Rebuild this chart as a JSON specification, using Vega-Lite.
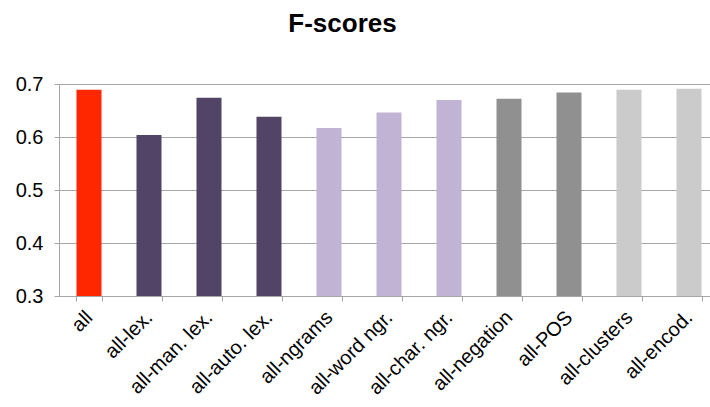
{
  "$schema": "https://vega.github.io/schema/vega-lite/v6.json",
  "autosize": {"type": "none"},
  "padding": {"left": 59, "top": 84, "right": 0, "bottom": 111},
  "width": 651,
  "height": 212,
  "background": "white",
  "title": {
    "text": "F-scores",
    "font": "Liberation Sans",
    "fontSize": 26,
    "fontWeight": "bold",
    "color": "#000000",
    "frame": "group",
    "anchor": "middle",
    "dx": -42,
    "offset": 37
  },
  "data": {
    "values": [
      {"config": "all", "fscore": 0.689, "group": "all"},
      {"config": "all-lex.", "fscore": 0.604, "group": "lex"},
      {"config": "all-man. lex.", "fscore": 0.674, "group": "lex"},
      {"config": "all-auto. lex.", "fscore": 0.638, "group": "lex"},
      {"config": "all-ngrams", "fscore": 0.617, "group": "ngrams"},
      {"config": "all-word ngr.", "fscore": 0.646, "group": "ngrams"},
      {"config": "all-char. ngr.", "fscore": 0.670, "group": "ngrams"},
      {"config": "all-negation", "fscore": 0.672, "group": "other"},
      {"config": "all-POS", "fscore": 0.684, "group": "other"},
      {"config": "all-clusters", "fscore": 0.689, "group": "encod"},
      {"config": "all-encod.", "fscore": 0.691, "group": "encod"}
    ]
  },
  "mark": {"type": "bar", "clip": true},
  "encoding": {
    "x": {
      "field": "config",
      "type": "nominal",
      "sort": null,
      "scale": {"range": [0, 660], "paddingInner": 0.583, "paddingOuter": 0.2915},
      "axis": {
        "title": null,
        "labelAngle": -45,
        "labelAlign": "right",
        "labelBaseline": "middle",
        "labelFont": "Liberation Sans",
        "labelFontSize": 20,
        "labelColor": "#000000",
        "labelPadding": 13,
        "labelOverlap": false,
        "labelBound": false,
        "labelFlush": false,
        "labelLimit": 400,
        "tickBand": "extent",
        "tickSize": 5,
        "tickColor": "#a6a6a6",
        "domainColor": "#a6a6a6",
        "grid": false
      }
    },
    "y": {
      "field": "fscore",
      "type": "quantitative",
      "scale": {"domain": [0.3, 0.7], "zero": false, "nice": false},
      "axis": {
        "title": null,
        "values": [0.3, 0.4, 0.5, 0.6, 0.7],
        "format": ".1f",
        "labelFont": "Liberation Sans",
        "labelFontSize": 20,
        "labelColor": "#000000",
        "labelPadding": 11,
        "tickSize": 5,
        "tickColor": "#a6a6a6",
        "domainColor": "#a6a6a6",
        "grid": true,
        "gridColor": "#a6a6a6",
        "gridOpacity": 1
      }
    },
    "color": {
      "field": "group",
      "type": "nominal",
      "legend": null,
      "scale": {
        "domain": ["all", "lex", "ngrams", "other", "encod"],
        "range": ["#ff2700", "#524466", "#c1b3d3", "#909090", "#cbcbcb"]
      }
    }
  },
  "config": {"view": {"stroke": null}}
}
